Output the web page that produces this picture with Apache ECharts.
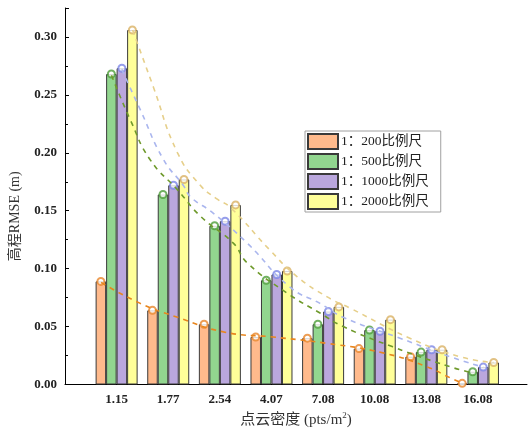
<!DOCTYPE html>
<html><head><meta charset="utf-8">
<script src="https://cdn.jsdelivr.net/npm/echarts@6/dist/echarts.min.js"></script>
<style>html,body{margin:0;padding:0;background:#fff}#c{width:528px;height:435px}</style>
</head><body><div id="c"></div>
<script>
const categories = ['1.15','1.77','2.54','4.07','7.08','10.08','13.08','16.08'];
const seriesNames = ['1：200比例尺','1：500比例尺','1：1000比例尺','1：2000比例尺'];
const s200  = [0.089, 0.064, 0.052, 0.041, 0.040, 0.031, 0.024, 0.001];
const s500  = [0.268, 0.164, 0.137, 0.090, 0.052, 0.047, 0.028, 0.011];
const s1000 = [0.273, 0.172, 0.141, 0.095, 0.063, 0.046, 0.030, 0.015];
const s2000 = [0.306, 0.177, 0.155, 0.098, 0.067, 0.056, 0.030, 0.019];
const yTicks = [0, 0.05, 0.10, 0.15, 0.20, 0.25, 0.30];
// fitted trend curves as [category position, value]
const t200  = [[0.70,0.088],[1.46,0.070],[2.18,0.058],[3.07,0.0454],[4.03,0.041],[5.05,0.0357],[6.16,0.0273],[7.01,0.0153],[7.46,0.0058],[7.70,0.001]];
const t500  = [[0.90,0.267],[1.27,0.228],[1.65,0.194],[2.18,0.168],[2.63,0.145],[3.26,0.122],[3.53,0.105],[4.30,0.079],[4.94,0.0617],[5.39,0.050],[6.35,0.0325],[7.46,0.0153],[7.90,0.010]];
const t1000 = [[1.10,0.272],[1.46,0.237],[1.91,0.194],[2.29,0.172],[2.43,0.162],[2.87,0.148],[3.53,0.122],[4.36,0.084],[4.94,0.070],[5.39,0.058],[6.49,0.040],[7.46,0.024],[8.10,0.015]];
const t2000 = [[1.31,0.306],[1.71,0.257],[2.18,0.200],[2.62,0.172],[2.95,0.160],[3.20,0.153],[3.97,0.116],[4.50,0.093],[5.08,0.0756],[5.52,0.066],[6.68,0.040],[7.65,0.024],[8.30,0.019]];

const barColors = ['#FFBA8C','#92D68F','#BAA7DD','#FFFF99'];
const markColors = ['#E8862A','#4E9E3A','#7C86E6','#D9B264'];
const lineColors = ['#E8861E','#6F9A2C','#AAB6EE','#E6CF8A'];
const BW = 10.5;
const offsets = [-1.5*BW, -0.5*BW, 0.5*BW, 1.5*BW];
const valuesAll = [s200, s500, s1000, s2000];
const trendsAll = [t200, t500, t1000, t2000];

const series = [];
valuesAll.forEach((vals, k) => {
  series.push({
    name: seriesNames[k], type: 'bar', barWidth: BW, barGap: '0%',
    data: vals.map((v, i) => [i + 1, v]),
    itemStyle: { color: barColors[k], borderColor: '#3a3a3a', borderWidth: 1 },
    z: 2
  });
});
valuesAll.forEach((vals, k) => {
  series.push({
    type: 'scatter', data: vals.map((v, i) => [i + 1, v]),
    symbol: 'emptyCircle', symbolSize: 7, symbolOffset: [offsets[k], 0],
    itemStyle: { color: markColors[k], borderColor: markColors[k], borderWidth: 1.2 },
    z: 4, silent: true
  });
});
trendsAll.forEach((pts, k) => {
  series.push({
    type: 'line', data: pts, smooth: true, showSymbol: false, symbol: 'none',
    lineStyle: { color: lineColors[k], width: 1.6, type: [5, 5] },
    z: 5, silent: true
  });
});

const chart = echarts.init(document.getElementById('c'), null, { renderer: 'canvas' });
chart.setOption({
  animation: false,
  backgroundColor: '#fff',
  grid: { left: 64.5, right: 1, top: 8, bottom: 50.5 },
  legend: {
    data: seriesNames, orient: 'vertical', left: 305, top: 131,
    itemWidth: 30, itemHeight: 15, itemGap: 3,
    backgroundColor: '#fff', borderColor: '#a0a0a0', borderWidth: 1,
    padding: [2, 12, 2, 2], icon: 'rect',
    textStyle: { fontFamily: 'Liberation Serif, Noto Sans CJK SC', fontSize: 13.5, color: '#222', padding: [0,0,0,-2] }
  },
  xAxis: {
    type: 'value', min: 0, max: 8.95, interval: 1,
    axisLine: { lineStyle: { color: '#000', width: 1 } },
    axisTick: { show: false }, splitLine: { show: false },
    axisLabel: {
      formatter: v => (v >= 1 && v <= categories.length && Number.isInteger(v)) ? categories[v - 1] : '',
      fontFamily: 'Liberation Serif', fontWeight: 'bold', fontSize: 13, color: '#222', margin: 9,
      showMaxLabel: false
    },
    name: '点云密度 (pts/m{sup|2})', nameLocation: 'middle', nameGap: 27,
    nameTextStyle: {
      fontFamily: 'Liberation Serif, Noto Sans CJK SC', fontSize: 15, color: '#333',
      rich: { sup: { fontSize: 9, verticalAlign: 'top', padding: [0,0,8,0], fontFamily: 'Liberation Serif', color: '#333' } }
    }
  },
  yAxis: {
    type: 'value', min: 0, max: 0.325, interval: 0.05,
    axisLine: { show: true, lineStyle: { color: '#000', width: 1 } },
    axisTick: { show: true, inside: true, length: 4, lineStyle: { color: '#000' } },
    minorTick: { show: true, splitNumber: 2, length: 3, lineStyle: { color: '#000' } },
    splitLine: { show: false },
    axisLabel: {
      formatter: v => yTicks.some(t => Math.abs(t - v) < 1e-9) ? v.toFixed(2) : '',
      fontFamily: 'Liberation Serif', fontWeight: 'bold', fontSize: 13, color: '#222', margin: 8
    },
    name: '高程RMSE (m)', nameLocation: 'middle', nameGap: 43,
    nameTextStyle: { fontFamily: 'Liberation Serif, Noto Sans CJK SC', fontSize: 14, color: '#333', padding: [0, 0, 0, -40] }
  },
  series: series
});
</script></body></html>
